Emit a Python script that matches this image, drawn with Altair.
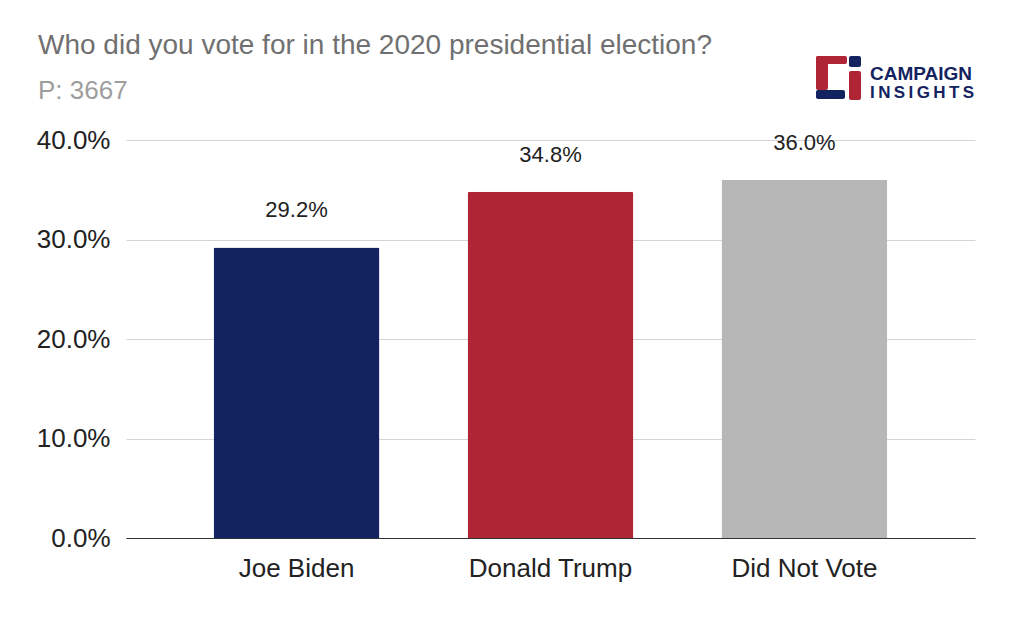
import altair as alt
import pandas as pd

categories = ["Joe Biden", "Donald Trump", "Did Not Vote"]
values = [0.292, 0.348, 0.360]
bar_colors = ["#13235f", "#b02535", "#b7b7b7"]
y_ticks = [0.0, 0.1, 0.2, 0.3, 0.4]

title_text = "Who did you vote for in the 2020 presidential election?"
subtitle_text = "P: 3667"
logo_line1 = "CAMPAIGN"
logo_line2 = "\u2009".join("INSIGHTS")

FONT = "Liberation Sans"

df = pd.DataFrame({"cat": categories, "val": values})

x_enc = alt.X("cat:N", sort=categories,
              scale=alt.Scale(paddingInner=0.347, paddingOuter=0.345),
              axis=alt.Axis(title=None, labelAngle=0, labelFontSize=26, labelFont=FONT,
                            labelColor="#222222", ticks=False, domainColor="#333333",
                            domainWidth=1, labelPadding=17))
y_enc = alt.Y("val:Q", scale=alt.Scale(domain=[0, 0.4], nice=False),
              axis=alt.Axis(title=None, values=y_ticks, format=".1%", labelFontSize=26,
                            labelFont=FONT, labelColor="#222222", ticks=False, domain=False,
                            gridColor="#d4d4d4", labelPadding=16))

bars = alt.Chart(df).mark_bar(cornerRadiusTopLeft=2, cornerRadiusTopRight=2).encode(
    x=x_enc, y=y_enc,
    color=alt.Color("cat:N", scale=alt.Scale(domain=categories, range=bar_colors), legend=None),
)

labels = alt.Chart(df).mark_text(baseline="alphabetic", dy=-30, fontSize=22, font=FONT,
                                 color="#222222").encode(
    x=alt.X("cat:N", sort=categories), y="val:Q",
    text=alt.Text("val:Q", format=".1%"),
)

title_df = pd.DataFrame({"t": [title_text]})
title = alt.Chart(title_df).mark_text(align="left", baseline="alphabetic", fontSize=28,
                                      font=FONT, color="#707070").encode(
    x=alt.value(-88), y=alt.value(-86), text="t:N")

sub_df = pd.DataFrame({"t": [subtitle_text]})
subtitle = alt.Chart(sub_df).mark_text(align="left", baseline="alphabetic", fontSize=26,
                                       font=FONT, color="#9e9e9e").encode(
    x=alt.value(-88), y=alt.value(-41), text="t:N")

logo_df = pd.DataFrame({
    "x": [690, 690, 690, 723, 723],
    "x2": [721, 702, 719, 735, 735],
    "y": [-84, -84, -50, -84, -69],
    "y2": [-76, -50, -41, -73, -40],
    "c": ["#b02535", "#b02535", "#13235f", "#13235f", "#b02535"],
})
logo_icon = alt.Chart(logo_df).mark_rect(cornerRadius=2).encode(
    x=alt.X("x:Q", scale=None), x2="x2:Q",
    y=alt.Y("y:Q", scale=None), y2="y2:Q",
    color=alt.Color("c:N", scale=None),
)

l1 = alt.Chart(pd.DataFrame({"t": [logo_line1]})).mark_text(
    align="left", baseline="alphabetic", fontSize=19, fontWeight="bold", font=FONT,
    color="#13235f").encode(x=alt.value(744), y=alt.value(-60), text="t:N")
l2 = alt.Chart(pd.DataFrame({"t": [logo_line2]})).mark_text(
    align="left", baseline="alphabetic", fontSize=17, fontWeight="bold", font=FONT,
    color="#13235f").encode(x=alt.value(744), y=alt.value(-42), text="t:N")

chart = alt.layer(bars, labels, title, subtitle, logo_icon, l1, l2).properties(
    width=849, height=398,
    autosize=alt.AutoSizeParams(type="none"),
    padding={"left": 118, "top": 132, "right": 41, "bottom": 75},
    background="white",
).configure_view(stroke=None)

chart.save("out.html", embed_options={"renderer": "svg", "actions": False})
